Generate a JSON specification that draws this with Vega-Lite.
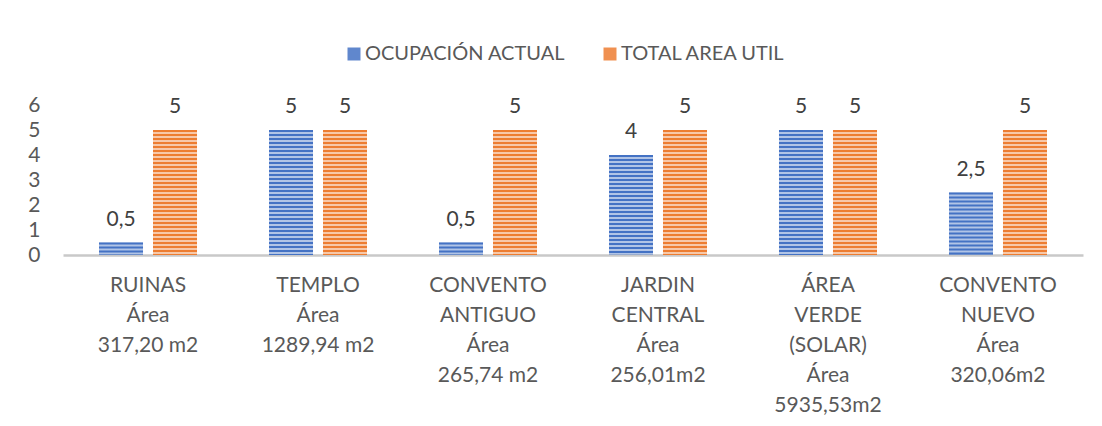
{
  "$schema": "https://vega.github.io/schema/vega-lite/v6.json",
  "autosize": "none",
  "width": 1020,
  "height": 150,
  "padding": {"left": 63, "top": 105, "right": 19, "bottom": 171},
  "background": "white",
  "config": {
    "font": "Lato",
    "view": {"stroke": null},
    "locale": {"number": {"decimal": ",", "thousands": ".", "grouping": [3], "currency": ["", ""]}}
  },
  "data": {
    "values": [
      {"categoria": "RUINAS\nÁrea\n317,20 m2", "serie": "OCUPACIÓN ACTUAL", "valor": 0.5},
      {"categoria": "RUINAS\nÁrea\n317,20 m2", "serie": "TOTAL AREA UTIL", "valor": 5},
      {"categoria": "TEMPLO\nÁrea\n1289,94 m2", "serie": "OCUPACIÓN ACTUAL", "valor": 5},
      {"categoria": "TEMPLO\nÁrea\n1289,94 m2", "serie": "TOTAL AREA UTIL", "valor": 5},
      {"categoria": "CONVENTO\nANTIGUO\nÁrea\n265,74 m2", "serie": "OCUPACIÓN ACTUAL", "valor": 0.5},
      {"categoria": "CONVENTO\nANTIGUO\nÁrea\n265,74 m2", "serie": "TOTAL AREA UTIL", "valor": 5},
      {"categoria": "JARDIN\nCENTRAL\nÁrea\n256,01m2", "serie": "OCUPACIÓN ACTUAL", "valor": 4},
      {"categoria": "JARDIN\nCENTRAL\nÁrea\n256,01m2", "serie": "TOTAL AREA UTIL", "valor": 5},
      {"categoria": "ÁREA\nVERDE\n(SOLAR)\nÁrea\n5935,53m2", "serie": "OCUPACIÓN ACTUAL", "valor": 5},
      {"categoria": "ÁREA\nVERDE\n(SOLAR)\nÁrea\n5935,53m2", "serie": "TOTAL AREA UTIL", "valor": 5},
      {"categoria": "CONVENTO\nNUEVO\nÁrea\n320,06m2", "serie": "OCUPACIÓN ACTUAL", "valor": 2.5},
      {"categoria": "CONVENTO\nNUEVO\nÁrea\n320,06m2", "serie": "TOTAL AREA UTIL", "valor": 5}
    ]
  },
  "encoding": {
    "x": {
      "field": "categoria",
      "type": "nominal",
      "sort": null,
      "scale": {"paddingInner": 0.4235, "paddingOuter": 0.2118},
      "axis": {
        "title": null,
        "labelAngle": 0,
        "labelExpr": "split(datum.label, '\\n')",
        "labelFontSize": 21,
        "labelLineHeight": 30,
        "labelColor": "#595959",
        "labelPadding": 19,
        "labelLimit": 0,
        "ticks": false,
        "domainColor": "#C9C9C9",
        "domainWidth": 2.5
      }
    },
    "xOffset": {
      "field": "serie",
      "type": "nominal",
      "scale": {"domain": ["OCUPACIÓN ACTUAL", "TOTAL AREA UTIL"], "paddingInner": 0.185}
    },
    "y": {
      "field": "valor",
      "type": "quantitative",
      "scale": {"domain": [0, 6], "nice": false},
      "axis": {
        "title": null,
        "values": [0, 1, 2, 3, 4, 5, 6],
        "grid": false,
        "domain": false,
        "ticks": false,
        "labelFontSize": 21,
        "labelColor": "#595959",
        "labelPadding": 23
      }
    }
  },
  "layer": [
    {
      "mark": {"type": "bar", "fillOpacity": 0.42},
      "encoding": {
        "color": {
          "field": "serie",
          "type": "nominal",
          "scale": {"domain": ["OCUPACIÓN ACTUAL", "TOTAL AREA UTIL"], "range": ["#4472C4", "#ED7D31"]},
          "legend": {
            "title": null,
            "orient": "none",
            "legendX": 281,
            "legendY": -61,
            "direction": "horizontal",
            "symbolType": "square",
            "symbolSize": 169,
            "symbolOpacity": 0.85,
            "symbolStrokeWidth": 0,
            "labelFontSize": 20,
            "labelColor": "#595959",
            "labelOffset": 1,
            "columnPadding": 34,
            "labelLimit": 0
          }
        }
      }
    },
    {
      "mark": {"type": "rule", "strokeWidth": 44, "strokeDash": [2, 2], "strokeCap": "butt"},
      "encoding": {
        "y2": {"datum": 0},
        "color": {"field": "serie", "type": "nominal", "legend": null}
      }
    },
    {
      "mark": {"type": "text", "baseline": "alphabetic", "dy": -17, "fontSize": 21, "color": "#404040"},
      "encoding": {
        "text": {"field": "valor", "type": "quantitative", "format": ".1~f"}
      }
    }
  ]
}
